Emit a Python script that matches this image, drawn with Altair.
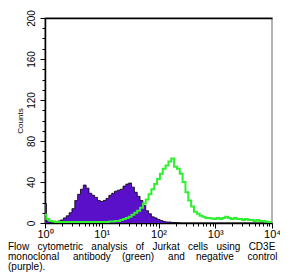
import altair as alt
import pandas as pd

# log10 fluorescence bin centres (0.05 decade wide)
log_bins = [round(i * 0.05, 2) for i in range(81)]

# negative control (purple) counts per bin
purple_counts = [
    19, 2, 0.5, 0.5, 1, 2, 3, 5, 7, 10,
    14, 22, 28, 33, 37, 34, 29, 27, 25, 22,
    21, 22, 24, 27, 29, 31, 32, 33, 36, 38,
    39, 35, 30, 26, 22, 17, 12, 9, 6, 5,
    3.5, 2.5, 1.5, 1, 1, 0.5, 0.5, 0.3, 0, 0,
    0, 0, 0, 0, 0, 0, 0, 0, 0, 0,
    0, 0, 0, 0, 0, 0, 0, 0, 0, 0,
    0, 0, 0, 0, 0, 0, 0, 0, 0, 0,
    0,
]

# CD3E antibody (green) counts per bin
green_counts = [
    8, 4, 2, 1.5, 1, 1, 1, 1, 1, 1,
    1, 1, 1, 1, 1, 1, 1, 1, 1, 1,
    1, 1, 1, 1.5, 1.5, 2, 2, 3, 4, 5,
    6, 8, 10, 12, 15, 19, 23, 28, 33, 38,
    43, 48, 53, 56, 60, 63, 55, 53, 48, 40,
    30, 22, 16, 11, 9, 7, 6, 5, 5, 4.5,
    4, 5, 4, 5, 6, 5, 4, 5, 4, 4,
    3, 4, 3, 3, 2, 3, 2, 2, 1.5, 1,
    1,
]

x_major = [1, 10, 100, 1000, 10000]
x_major_labels = ["10\u2070", "10\u00b9", "10\u00b2", "10\u00b3", "10\u2074"]
y_ticks = list(range(0, 201, 10))

caption_line1 = ["Flow", "cytometric", "analysis", "of", "Jurkat", "cells", "using", "CD3E"]
caption_line2 = ["monoclonal", "antibody", "(green)", "and", "negative", "control"]
caption_line3 = ["(purple)."]
gaps_line1 = [3, 3, 3, 3, 3, 3, 3]
gaps_line2 = [5, 4, 5, 4, 5]


def justify(words, gaps):
    out = words[0]
    for w, g in zip(words[1:], gaps):
        out += "\u00a0" * g + w
    return out


caption = [
    justify(caption_line1, gaps_line1),
    justify(caption_line2, gaps_line2),
    " ".join(caption_line3),
]

df = pd.DataFrame({
    "x": [10 ** v for v in log_bins],
    "purple": purple_counts,
    "green": green_counts,
})

x_minor = []
for dec in [1, 10, 100, 1000]:
    for m in range(1, 10):
        x_minor.append(dec * m)
x_minor.append(10000)

label_expr = " : ".join(
    f"datum.value == {v} ? '{l}'" for v, l in zip(x_major, x_major_labels)
) + " : ''"
major_test = "indexof([" + ",".join(str(v) for v in x_major) + "], datum.value) >= 0"

xscale = alt.Scale(type="log", domain=[1, 10000], nice=False)
yscale = alt.Scale(domain=[0, 200], nice=False)

x_axis = alt.Axis(
    values=x_minor,
    labelExpr=label_expr,
    tickSize={"condition": {"test": major_test, "value": 5}, "value": 3},
    labelFontSize=11,
    labelFont="Liberation Sans",
    labelColor="black",
    labelPadding=0,
    labelOverlap=False,
    labelFlush=False,
    grid=False,
    title=None,
    domainColor="black",
    domainWidth=1.5,
    tickColor="black",
    tickWidth=1,
)

y_axis = alt.Axis(
    values=y_ticks,
    labelExpr="datum.value % 40 == 0 ? datum.label : ''",
    tickSize={"condition": {"test": "datum.value % 40 == 0", "value": 5}, "value": 3},
    labelAngle=-90,
    labelAlign="center",
    labelBaseline="bottom",
    labelFontSize=10,
    labelFont="Liberation Sans",
    labelColor="black",
    labelPadding=4,
    labelOverlap=False,
    labelFlush=False,
    grid=False,
    title="Counts",
    titleFontSize=8,
    titleFont="Liberation Sans",
    titleFontWeight="normal",
    titleColor="black",
    titlePadding=2,
    domainColor="black",
    domainWidth=1.5,
    tickColor="black",
)

base = alt.Chart(df)

purple = base.mark_area(
    interpolate="step",
    color="#5a10c8",
    opacity=1,
    line={"color": "black", "strokeWidth": 0.8},
).encode(
    x=alt.X("x:Q", scale=xscale, axis=x_axis),
    y=alt.Y("purple:Q", scale=yscale, axis=y_axis),
)

green = base.mark_line(
    interpolate="step",
    color="#2ef02e",
    strokeWidth=2,
).encode(
    x=alt.X("x:Q", scale=xscale,
            axis=alt.Axis(orient="top", ticks=False, labels=False, grid=False,
                          title=None, domainColor="black", domainWidth=1.5)),
    y=alt.Y("green:Q", scale=yscale, axis=y_axis),
)

chart = alt.layer(purple, green).resolve_axis(x="independent").properties(
    width=227,
    height=205,
    autosize=alt.AutoSizeParams(type="none"),
    padding={"left": 37, "top": 10, "right": 8, "bottom": 50},
    title=alt.TitleParams(
        text=caption,
        orient="bottom",
        anchor="start",
        frame="group",
        dx=-37,
        offset=3,
        fontSize=10,
        lineHeight=10,
        font="Liberation Sans",
        fontWeight="normal",
        color="black",
        align="left",
    ),
).configure_view(stroke="#999999", strokeWidth=1.5)

chart.save("out.html", embed_options={"renderer": "svg", "actions": False})
